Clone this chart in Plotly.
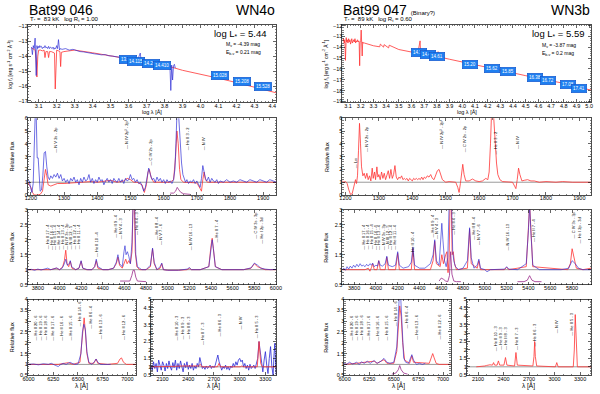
import plotly.graph_objects as go

W, H = 600, 394
RED = "#ff3434"
BLUE = "#2a2ad6"
FONT = "Liberation Sans, Arial, sans-serif"

# ---------------- Bat99 046 (left column) ----------------
l_sed_mod_x = [3.060, 3.070, 3.080, 3.085, 3.090, 3.095, 3.100, 3.110, 3.120, 3.130, 3.135, 3.140,
               3.150, 3.155, 3.160, 3.170, 3.180, 3.188, 3.192, 3.196, 3.200, 3.210, 3.218, 3.222,
               3.226, 3.240, 3.300, 3.400, 3.500, 3.600, 3.700, 3.800, 3.900, 4.000, 4.100, 4.200,
               4.300, 4.420]
l_sed_mod_y = [-13.45, -13.5, -13.6, -14.2, -15.4, -14.0, -13.6, -13.6, -13.65, -13.6, -14.1, -13.7,
               -13.7, -14.1, -13.7, -13.7, -13.75, -13.8, -16.2, -13.8, -13.6, -13.65, -13.7, -14.7,
               -13.75, -13.7, -13.6, -13.78, -13.98, -14.17, -14.37, -14.6, -14.95, -15.2, -15.48, -15.77,
               -16.07, -16.45]
l_sed_obs_x = [3.060, 3.065, 3.070, 3.075, 3.080, 3.083, 3.086, 3.090, 3.094, 3.098, 3.102, 3.106,
               3.110, 3.115, 3.120, 3.125, 3.130, 3.135, 3.140, 3.145, 3.150, 3.155, 3.160, 3.165,
               3.170, 3.175, 3.180, 3.185, 3.190, 3.195, 3.200, 3.205, 3.210, 3.213, 3.216, 3.220,
               3.230, 3.250, 3.270, 3.290, 3.310, 3.330, 3.350, 3.370, 3.390, 3.410, 3.430, 3.450,
               3.470, 3.490, 3.510, 3.530, 3.550, 3.570, 3.590, 3.610, 3.630, 3.650, 3.665, 3.670,
               3.690, 3.710, 3.730, 3.750, 3.770, 3.790, 3.810, 3.820, 3.830, 3.835, 3.840, 3.845,
               3.850, 3.855, 3.860]
l_sed_obs_y = [-13.4, -13.9, -13.3, -13.5, -12.8, -13.6, -15.3, -13.3, -13.5, -13.35, -13.45, -13.3,
               -13.4, -13.35, -13.5, -13.4, -13.45, -13.3, -13.45, -13.4, -13.5, -13.35, -13.5, -13.4,
               -13.45, -13.5, -13.4, -13.55, -13.45, -13.5, -13.3, -13.5, -12.9, -13.4, -13.6, -13.5,
               -13.55, -13.5, -13.6, -13.55, -13.65, -13.7, -13.72, -13.78, -13.8, -13.85, -13.88, -13.92,
               -13.9, -13.98, -14.0, -14.05, -14.1, -14.1, -14.15, -14.2, -14.22, -14.28, -13.8, -14.3,
               -14.32, -14.35, -14.4, -14.42, -14.48, -14.5, -14.75, -14.5, -14.6, -16.3, -14.6, -15.6,
               -14.65, -14.55, -14.8]
l_phot_x = [3.596, 3.642, 3.727, 3.787, 4.111, 4.229, 4.347]
l_phot_y = [-14.22, -14.36, -14.49, -14.64, -15.33, -15.67, -16.0]
l_phot_lab = ["13.982", "14.115", "14.262", "14.410", "15.028", "15.208", "15.528"]

l_uv_obs_x = [1190, 1195, 1199, 1203, 1207, 1210, 1213, 1216, 1219, 1222, 1225, 1228, 1232, 1236,
              1240, 1244, 1248, 1252, 1256, 1260, 1265, 1270, 1275, 1280, 1285, 1290, 1295, 1300,
              1305, 1310, 1315, 1320, 1325, 1330, 1335, 1340, 1345, 1350, 1355, 1360, 1365, 1370,
              1375, 1380, 1385, 1390, 1395, 1400, 1405, 1410, 1415, 1420, 1425, 1430, 1435, 1440,
              1445, 1450, 1455, 1460, 1465, 1470, 1475, 1480, 1485, 1490, 1495, 1500, 1505, 1510,
              1515, 1520, 1525, 1530, 1535, 1540, 1545, 1550, 1555, 1560, 1565, 1570, 1575, 1580,
              1585, 1590, 1595, 1600, 1605, 1610, 1615, 1620, 1625, 1630, 1634, 1637, 1640, 1645,
              1650, 1654, 1658, 1662, 1666, 1670, 1675, 1680, 1685, 1690, 1695, 1700, 1705, 1710,
              1714, 1718, 1722, 1726, 1730, 1735, 1740, 1745, 1750, 1755, 1760, 1765, 1770, 1780,
              1790, 1800, 1810, 1820, 1830, 1840, 1850, 1860, 1870, 1880, 1890, 1900, 1910, 1920,
              1930, 1940]
l_uv_obs_y = [1.2, 1.1, 0.6, 0.2, 0.9, 3.0, 6.3, 6.3, 2.9, 2.9, 1.0, 0.3, 0.4, 1.5,
              3.3, 3.4, 2.2, 1.4, 1.2, 1.5, 1.3, 1.6, 1.4, 1.7, 1.3, 1.6, 1.1, 1.3,
              1.0, 1.2, 0.9, 1.3, 1.1, 1.4, 1.0, 1.2, 0.8, 1.3, 1.0, 1.4, 1.1, 1.2,
              1.6, 1.0, 1.3, 0.9, 1.2, 1.0, 1.4, 1.1, 1.2, 0.8, 1.1, 1.3, 1.0, 1.2,
              0.9, 1.3, 1.1, 1.0, 1.3, 1.0, 1.2, 0.9, 1.3, 1.1, 1.2, 1.6, 1.2, 1.3,
              1.0, 1.2, 0.9, 1.0, 0.7, 0.3, 0.6, 1.5, 2.1, 1.6, 1.2, 1.3, 1.0, 1.4,
              1.1, 1.3, 1.0, 1.2, 0.9, 1.2, 1.0, 1.1, 0.9, 1.2, 2.0, 4.0, 6.3, 6.3,
              4.0, 2.5, 1.6, 1.2, 1.0, 1.2, 0.9, 1.1, 1.0, 1.2, 0.9, 1.1, 0.8, 0.6,
              1.3, 2.3, 1.8, 1.3, 1.1, 1.4, 1.0, 1.3, 1.1, 1.0, 1.2, 0.9, 1.1, 1.0,
              1.2, 1.0, 1.1, 1.0, 1.2, 1.1, 1.0, 1.2, 1.1, 1.0, 1.2, 1.1, 1.0, 1.2,
              1.1, 1.0]
l_uv_mod_x = [1190, 1200, 1205, 1210, 1220, 1228, 1235, 1240, 1244, 1248, 1252, 1260, 1270, 1280,
              1300, 1320, 1340, 1360, 1380, 1400, 1420, 1440, 1460, 1480, 1490, 1500, 1510, 1520,
              1535, 1542, 1548, 1553, 1557, 1562, 1570, 1600, 1620, 1630, 1636, 1640, 1644, 1648,
              1652, 1660, 1700, 1710, 1714, 1718, 1722, 1726, 1732, 1760, 1800, 1850, 1940]
l_uv_mod_y = [1.0, 0.6, 0.2, 0.0, 0.0, 0.05, 0.3, 1.2, 2.0, 1.5, 0.8, 0.7, 0.8, 0.9,
              0.9, 0.95, 1.0, 1.0, 1.05, 1.0, 1.1, 1.15, 1.0, 1.1, 1.3, 1.2, 1.0, 1.0,
              0.8, 0.2, 0.8, 1.8, 2.0, 1.4, 1.0, 1.0, 1.0, 1.2, 3.0, 5.0, 4.0, 2.0,
              1.2, 1.0, 0.95, 0.5, 0.3, 1.2, 1.8, 1.2, 1.0, 1.0, 1.0, 1.0, 1.0]
l_uv_sub_x = [1620, 1630, 1636, 1641, 1646, 1652, 1660, 1670, 1680]
l_uv_sub_y = [0.15, 0.15, 0.3, 0.6, 0.4, 0.2, 0.1, 0.08, 0.05]

l_opt_mod_x = [3705, 3800, 3850, 3890, 3920, 3970, 4000, 4030, 4045, 4058, 4070, 4085, 4100, 4115,
               4150, 4180, 4200, 4215, 4250, 4300, 4325, 4340, 4355, 4400, 4450, 4500, 4525, 4540,
               4555, 4580, 4600, 4612, 4625, 4640, 4655, 4670, 4680, 4692, 4700, 4715, 4740, 4800,
               4840, 4860, 4875, 4900, 4930, 4945, 4960, 5000, 5100, 5180, 5200, 5220, 5300, 5380,
               5400, 5411, 5422, 5440, 5500, 5600, 5700, 5770, 5801, 5830, 5860, 5900, 6005]
l_opt_mod_y = [1.0, 1.0, 1.0, 1.02, 1.0, 1.05, 1.0, 1.1, 1.3, 1.65, 1.2, 1.1, 1.28, 1.05,
               1.0, 1.05, 1.28, 1.05, 1.0, 1.0, 1.1, 1.3, 1.05, 1.0, 1.0, 1.05, 1.2, 1.42,
               1.15, 1.05, 1.25, 1.35, 1.2, 1.3, 1.2, 1.6, 3.2, 3.2, 1.6, 1.1, 1.0, 1.0,
               1.1, 1.7, 1.2, 1.0, 1.05, 1.2, 1.0, 0.98, 0.98, 1.0, 1.05, 1.0, 1.0, 1.1,
               1.8, 2.05, 1.7, 1.1, 1.0, 1.0, 1.0, 1.05, 1.2, 1.1, 1.05, 1.0, 1.0]
l_opt_obs_x = [3705, 3740, 3770, 3800, 3830, 3860, 3890, 3920, 3950, 3975, 4000, 4025, 4045, 4058,
               4072, 4090, 4100, 4112, 4150, 4180, 4200, 4215, 4260, 4300, 4325, 4340, 4355, 4400,
               4450, 4500, 4525, 4540, 4555, 4580, 4596, 4605, 4615, 4628, 4640, 4655, 4670, 4680,
               4695, 4705, 4720, 4760, 4800, 4840, 4860, 4875, 4900, 4930, 4945, 4960, 5000, 5050,
               5100, 5180, 5200, 5220, 5300, 5380, 5400, 5411, 5422, 5440, 5500, 5600, 5700, 5770,
               5801, 5830, 5860, 5900, 5950, 6005]
l_opt_obs_y = [1.0, 1.01, 0.98, 1.02, 0.99, 1.03, 1.05, 1.0, 1.02, 1.06, 1.0, 1.05, 1.2, 1.35,
               1.15, 1.2, 1.3, 1.1, 1.0, 1.05, 1.3, 1.05, 1.0, 1.0, 1.1, 1.35, 1.1, 1.0,
               1.0, 1.05, 1.25, 1.5, 1.2, 1.1, 1.6, 1.8, 1.5, 1.6, 1.45, 1.2, 1.9, 3.2,
               3.2, 1.5, 1.1, 1.0, 1.0, 1.15, 1.72, 1.25, 1.0, 1.1, 1.22, 1.0, 0.98, 0.97,
               0.98, 1.02, 1.07, 1.0, 1.0, 1.1, 1.8, 2.0, 1.7, 1.1, 1.0, 0.99, 1.0, 1.06,
               1.22, 1.15, 1.05, 1.02, 1.0, 1.01]
l_opt_sub_x = [4560, 4590, 4620, 4650, 4668, 4680, 4692, 4705, 4720, 4760, 4800]
l_opt_sub_y = [0.62, 0.62, 0.6, 0.62, 0.8, 0.98, 0.98, 0.75, 0.62, 0.6, 0.6]

l_ha_obs_x = [5995, 6050, 6100, 6150, 6200, 6230, 6260, 6300, 6320, 6350, 6380, 6420, 6440, 6470,
              6500, 6530, 6545, 6560, 6575, 6590, 6610, 6640, 6670, 6683, 6700, 6730, 6760, 6800, 6830]
l_ha_obs_y = [1.0, 1.02, 0.98, 1.03, 1.0, 1.05, 0.98, 0.9, 0.98, 1.05, 1.0, 1.1, 1.05, 1.0,
              1.02, 1.5, 2.5, 2.85, 2.6, 1.6, 1.1, 1.0, 1.15, 1.25, 1.1, 1.0, 1.0, 1.0, 1.0]
l_ha_mod_x = [5995, 6100, 6200, 6300, 6400, 6450, 6520, 6540, 6555, 6562, 6575, 6590, 6610, 6660,
              6683, 6700, 6800, 6900, 6925, 6940, 6960, 6990, 7095]
l_ha_mod_y = [1.0, 1.0, 1.02, 1.0, 1.08, 1.0, 1.1, 2.2, 3.1, 3.15, 2.5, 1.5, 1.05, 1.05,
              1.25, 1.05, 1.0, 1.05, 1.25, 1.3, 1.1, 1.0, 1.0]

l_ir_obs_x = [1966, 1980, 1995, 2010, 2025, 2040, 2055, 2070, 2085, 2100, 2115, 2130, 2145, 2160,
              2175, 2190, 2205, 2220, 2235, 2250, 2265, 2280, 2295, 2310, 2325, 2340, 2355, 2370,
              2385, 2400, 2415, 2430, 2445, 2460, 2475, 2490, 2505, 2520, 2535, 2550, 2565, 2580,
              2595, 2610, 2625, 2640, 2655, 2670, 2685, 2700, 2715, 2730, 2745, 2760, 2775, 2790,
              2805, 2820, 2835, 2850, 2865, 2880, 2895, 2910, 2925, 2940, 2955, 2970, 2985, 3000,
              3015, 3030, 3045, 3060, 3075, 3090, 3105, 3120, 3135, 3150, 3165, 3180, 3195, 3210,
              3225, 3240, 3255, 3270, 3285, 3300, 3315, 3330, 3345, 3360, 3375, 3390, 3400, 3410,
              3420, 3428]
l_ir_obs_y = [1.1, 0.8, 1.3, 0.9, 1.2, 0.7, 1.4, 1.0, 0.8, 1.3, 1.1, 0.75, 1.2, 0.9,
              1.35, 1.0, 0.8, 1.25, 0.95, 1.4, 0.8, 1.2, 0.9, 1.35, 1.0, 0.7, 1.2, 0.95,
              1.3, 0.85, 1.1, 0.9, 1.2, 0.8, 1.05, 0.9, 1.2, 1.0, 1.55, 1.1, 0.9, 1.0,
              0.85, 1.05, 0.9, 1.0, 1.1, 0.9, 1.05, 0.95, 1.1, 1.4, 1.7, 1.3, 1.0, 0.8,
              1.0, 0.9, 1.1, 0.85, 1.0, 0.8, 1.05, 0.95, 1.2, 1.0, 1.3, 1.1, 1.4, 1.5,
              1.3, 1.4, 1.0, 1.2, 0.9, 1.1, 0.8, 1.15, 0.9, 1.0, 1.1, 0.9, 1.2, 1.5,
              2.5, 1.8, 1.0, 0.7, 1.4, 1.9, 1.1, 0.6, 1.5, 2.2, 1.0, 0.5, 1.7, 2.4,
              1.0, 0.5]
l_ir_mod_x = [1966, 2200, 2250, 2330, 2410, 2520, 2541, 2560, 2740, 2758, 2776, 3005, 3025, 3045,
              3205, 3226, 3245, 3265, 3430]
l_ir_mod_y = [1.0, 1.0, 1.03, 1.05, 1.05, 1.05, 1.15, 1.0, 1.0, 1.2, 1.0, 1.0, 1.05, 1.0,
              1.0, 2.5, 1.2, 1.0, 1.0]

# ---------------- Bat99 047 (right column) ----------------
r_sed_mod_x = [3.060, 3.065, 3.070, 3.075, 3.080, 3.083, 3.086, 3.090, 3.095, 3.100, 3.105, 3.110,
               3.115, 3.120, 3.125, 3.130, 3.135, 3.140, 3.145, 3.150, 3.155, 3.160, 3.165, 3.170,
               3.175, 3.180, 3.185, 3.188, 3.192, 3.196, 3.200, 3.204, 3.208, 3.212, 3.216, 3.220,
               3.230, 3.300, 3.350, 3.355, 3.380, 3.385, 3.420, 3.425, 3.500, 3.600, 3.650, 3.668,
               3.672, 3.700, 3.800, 3.810, 3.815, 3.900, 4.000, 4.060, 4.100, 4.240, 4.360, 4.500,
               4.570, 4.680, 4.840, 4.920, 5.015]
r_sed_mod_y = [-13.4, -13.2, -13.6, -13.3, -15.2, -13.4, -13.1, -13.5, -13.3, -13.6, -13.2, -13.5,
               -13.3, -13.7, -13.4, -13.2, -13.6, -13.4, -13.3, -13.5, -13.2, -13.6, -13.4, -13.5,
               -13.3, -13.5, -13.4, -13.5, -15.7, -13.5, -13.4, -12.4, -13.5, -14.8, -13.5, -13.6,
               -13.6, -13.85, -13.95, -13.7, -13.98, -13.75, -14.05, -13.8, -14.2, -14.45, -14.55, -13.4,
               -14.6, -14.65, -14.85, -14.4, -14.88, -15.1, -15.35, -15.5, -15.62, -15.95, -16.2, -16.62,
               -16.8, -17.05, -17.42, -17.72, -17.95]
r_phot_x = [3.656, 3.728, 3.800, 4.058, 4.238, 4.362, 4.573, 4.675, 4.835, 4.920]
r_phot_y = [-14.46, -14.68, -14.84, -15.57, -15.95, -16.2, -16.83, -17.05, -17.4, -17.77]
r_phot_lab = ["14.32", "14.46", "14.61", "15.20", "15.62", "15.85", "16.38", "16.72", "17.08", "17.41"]

r_uv_mod_x = [1190, 1195, 1200, 1205, 1210, 1215, 1220, 1225, 1230, 1233, 1236, 1239, 1242, 1245,
              1248, 1252, 1256, 1260, 1264, 1268, 1272, 1276, 1280, 1283, 1287, 1290, 1294, 1297,
              1300, 1304, 1308, 1312, 1316, 1320, 1324, 1328, 1332, 1336, 1340, 1344, 1348, 1352,
              1356, 1360, 1364, 1368, 1372, 1376, 1380, 1384, 1388, 1392, 1396, 1400, 1404, 1408,
              1412, 1416, 1420, 1424, 1428, 1432, 1436, 1440, 1445, 1450, 1455, 1460, 1465, 1470,
              1475, 1480, 1485, 1490, 1495, 1500, 1510, 1520, 1530, 1536, 1540, 1544, 1548, 1551,
              1555, 1560, 1570, 1580, 1590, 1600, 1610, 1620, 1626, 1630, 1634, 1637, 1643, 1648,
              1652, 1656, 1662, 1670, 1690, 1700, 1706, 1710, 1714, 1718, 1722, 1728, 1735, 1745,
              1755, 1765, 1780, 1800, 1830, 1850, 1880, 1935]
r_uv_mod_y = [1.1, 1.0, 1.05, 0.9, 0.4, 0.05, 0.1, 0.6, 1.2, 0.9, 1.5, 3.5, 5.6, 4.0,
              2.2, 1.5, 1.7, 1.3, 1.7, 1.2, 1.5, 1.1, 2.1, 1.3, 1.8, 1.2, 2.2, 1.4,
              1.6, 1.2, 1.8, 1.3, 1.7, 1.2, 1.5, 1.9, 1.3, 2.0, 1.3, 1.6, 2.3, 1.4,
              1.2, 1.4, 1.3, 1.5, 1.2, 1.3, 1.2, 1.3, 1.1, 1.3, 1.2, 1.1, 1.3, 1.2,
              1.3, 1.2, 1.3, 1.2, 1.4, 1.2, 1.4, 1.3, 1.5, 1.4, 1.6, 1.3, 1.2, 1.5,
              1.9, 2.0, 1.6, 1.2, 1.1, 1.0, 1.05, 1.0, 1.0, 0.6, 0.2, 0.9, 2.0, 2.4,
              1.6, 1.1, 1.1, 1.25, 1.1, 1.05, 1.1, 1.3, 1.2, 1.8, 4.0, 6.3, 6.3, 4.0,
              2.5, 1.6, 1.2, 1.05, 1.0, 1.0, 0.7, 0.5, 1.2, 2.1, 1.6, 1.1, 1.15, 1.2,
              1.1, 1.1, 1.0, 1.05, 1.0, 1.05, 1.0, 1.0]

r_opt_obs_x = [3690, 3705, 3720, 3735, 3750, 3765, 3780, 3795, 3810, 3825, 3840, 3855, 3870, 3885,
               3900, 3915, 3930, 3945, 3960, 3970, 3985, 4000, 4015, 4026, 4040, 4060, 4085, 4100,
               4115, 4150, 4180, 4200, 4215, 4250, 4300, 4325, 4340, 4355, 4400, 4450, 4500, 4525,
               4540, 4555, 4580, 4596, 4605, 4615, 4630, 4645, 4660, 4672, 4680, 4695, 4705, 4715,
               4730, 4760, 4800, 4840, 4860, 4875, 4900, 4930, 4945, 4960, 5000, 5020, 5050, 5100,
               5180, 5200, 5220, 5300, 5380, 5400, 5411, 5422, 5440, 5500, 5600, 5700, 5770, 5801,
               5830, 5860, 5900, 5975]
r_opt_obs_y = [1.0, 1.05, 0.98, 1.1, 1.02, 1.12, 1.05, 1.15, 1.08, 1.18, 1.1, 1.2, 1.12, 1.15,
               1.1, 1.18, 1.12, 1.2, 1.15, 1.22, 1.1, 1.15, 1.12, 1.3, 1.15, 1.12, 1.2, 1.45,
               1.15, 1.1, 1.15, 1.6, 1.15, 1.05, 1.1, 1.25, 1.75, 1.15, 1.05, 1.05, 1.2, 1.5,
               2.0, 1.3, 1.15, 2.2, 2.55, 2.0, 1.3, 1.1, 1.4, 3.2, 3.2, 3.2, 1.6, 1.3,
               1.1, 1.0, 1.05, 1.3, 2.4, 1.4, 1.05, 1.15, 1.35, 1.05, 1.0, 0.93, 1.0, 1.0,
               1.02, 1.1, 1.02, 1.0, 1.2, 2.3, 3.2, 2.3, 1.15, 1.0, 1.0, 1.0, 1.05, 1.3,
               1.2, 1.05, 1.0, 1.0]
r_opt_mod_x = [3690, 3800, 3900, 3930, 3945, 3960, 3970, 3985, 4010, 4026, 4040, 4085, 4100, 4115,
               4180, 4200, 4215, 4325, 4340, 4355, 4500, 4525, 4540, 4555, 4590, 4605, 4620, 4640,
               4652, 4662, 4672, 4680, 4692, 4700, 4710, 4722, 4740, 4840, 4860, 4875, 4930, 4945,
               4960, 5180, 5200, 5220, 5380, 5400, 5411, 5422, 5440, 5760, 5785, 5801, 5815, 5840,
               5900, 5975]
r_opt_mod_y = [1.0, 1.0, 1.0, 1.05, 0.95, 1.08, 1.2, 1.0, 1.0, 1.3, 1.0, 1.0, 1.42, 1.0,
               1.0, 1.55, 1.0, 1.0, 1.7, 1.0, 1.0, 1.3, 1.95, 1.2, 1.1, 1.5, 1.2, 1.5,
               1.6, 0.9, 1.4, 3.2, 3.2, 1.5, 1.6, 1.2, 1.0, 1.05, 2.35, 1.2, 1.05, 1.3,
               1.0, 1.0, 1.08, 1.0, 1.1, 2.4, 3.2, 2.4, 1.1, 1.0, 1.2, 1.7, 1.45, 1.05,
               1.0, 1.05]
r_opt_sub1_x = [4580, 4600, 4620, 4640, 4660, 4675, 4686, 4698, 4715, 4740, 4780]
r_opt_sub1_y = [0.62, 0.72, 0.68, 0.62, 0.6, 0.8, 1.6, 0.85, 0.62, 0.6, 0.6]
r_opt_sub2_x = [5300, 5360, 5390, 5405, 5411, 5418, 5432, 5460, 5520]
r_opt_sub2_y = [0.6, 0.6, 0.65, 0.75, 0.8, 0.75, 0.65, 0.6, 0.6]

r_ha_obs_x = [5995, 6020, 6050, 6080, 6100, 6120, 6150, 6170, 6200, 6230, 6260, 6300, 6330, 6370,
              6400, 6430, 6460, 6500, 6530, 6545, 6555, 6570, 6585, 6600, 6620, 6650, 6670, 6683,
              6700, 6730, 6760, 6790, 6820]
r_ha_obs_y = [1.05, 1.0, 1.1, 1.02, 1.05, 1.1, 1.0, 1.12, 1.05, 1.15, 1.05, 1.18, 1.05, 1.15,
              1.28, 1.1, 1.05, 1.1, 1.8, 3.3, 4.1, 4.1, 2.5, 1.3, 1.1, 1.05, 1.3, 1.45,
              1.2, 1.0, 1.05, 1.0, 1.05]
r_ha_mod_x = [5995, 6070, 6120, 6170, 6230, 6300, 6330, 6400, 6430, 6500, 6530, 6545, 6560, 6575,
              6590, 6610, 6660, 6683, 6700, 6860, 6880, 6895, 6910, 6930, 6960, 7080]
r_ha_mod_y = [1.0, 1.05, 1.05, 1.08, 1.1, 1.15, 1.05, 1.22, 1.05, 1.05, 1.6, 3.0, 3.7, 3.2,
              2.0, 1.2, 1.05, 1.4, 1.1, 1.05, 1.3, 1.5, 1.3, 1.05, 1.0, 1.0]
r_ha_sub_x = [6480, 6520, 6545, 6560, 6575, 6600, 6640]
r_ha_sub_y = [0.55, 0.6, 0.75, 0.95, 0.75, 0.6, 0.55]

r_ir_mod_x = [2080, 2150, 2180, 2200, 2220, 2240, 2270, 2283, 2296, 2325, 2340, 2355, 2405, 2423,
              2440, 2530, 2546, 2562, 2745, 2758, 2766, 2774, 2790, 3010, 3026, 3042, 3220, 3232,
              3243, 3254, 3268, 3430]
r_ir_mod_y = [1.0, 1.02, 1.05, 1.08, 1.1, 1.12, 1.1, 1.25, 1.1, 1.1, 1.35, 1.1, 1.1, 1.55,
              1.1, 1.05, 1.85, 1.1, 1.05, 1.6, 2.5, 1.6, 1.05, 1.0, 1.25, 1.0, 1.0, 2.0,
              4.1, 2.0, 1.0, 1.0]

# line identifications: (x, y_center, label)
l_uv_ids = [(1275, 4.3, "N V 2s - 2p"), (1488, 4.8, "N IV 2p² - 2p³"), (1560, 3.35, "C IV 2s - 2p"),
            (1672, 4.4, "He II 3 - 2"), (1720, 4.0, "N IV")]
r_uv_ids = [(1229, 2.5, "Lα"), (1262, 4.4, "N V 2s - 2p"), (1487, 4.8, "N IV 2p² - 2p³"),
            (1556, 4.4, "C IV 2s - 2p"), (1650, 4.1, "He II 3 - 2"), (1715, 4.1, "N IV")]
opt_ids = [(3890, 2.1, "He II 17 - 4"), (3925, 2.1, "He II 16 - 4"), (3960, 2.1, "He II 15 - 4"),
           (3995, 2.1, "He II 14 - 4"), (4030, 2.1, "He II 13 - 4"), (4070, 2.1, "N IV 3s - 3p"),
           (4105, 2.1, "N III 12 - 5"), (4140, 2.1, "He II 12 - 4"), (4175, 2.1, "He II 11 - 4"),
           (4336, 1.85, "He II 10 - 4"), (4517, 2.45, "He II 9 - 4"), (4563, 2.4, "N V 4 - 3"),
           (4713, 2.55, "He II 4 - 3"), (4900, 2.4, "He II 8 - 4"), (4940, 2.2, "N V 7 - 6"),
           (5211, 2.1, "N IV 16 - 13"), (5453, 2.3, "He II 7 - 4"), (5815, 2.5, "C IV 3s - 3p"),
           (5870, 2.3, "He I 2p - 3d")]
ha_ids = [(6075, 2.7, "He II 20 - 6"), (6125, 2.7, "He II 19 - 6"), (6174, 2.7, "He II 18 - 6"),
          (6248, 2.7, "He II 17 - 6"), (6331, 2.7, "He II 16 - 6"), (6429, 2.7, "He II 15 - 6"),
          (6520, 3.35, "He II 14 - 6"), (6631, 3.2, "He II 6 - 4"), (6729, 2.75, "He II 13 - 6"),
          (6959, 2.75, "He II 12 - 6")]
l_ir_ids = [(2263, 3.3, "He II 10 - 3"), (2332, 3.3, "He II 9 - 3"), (2400, 3.3, "He II 8 - 3"),
            (2560, 3.0, "He II 7 - 3"), (2769, 3.5, "He II 6 - 3"), (3009, 3.6, "N IV"),
            (3189, 3.4, "He II 5 - 3")]
r_ir_ids = [(2301, 2.7, "He II 10 - 3"), (2355, 2.7, "He II 9 - 3"), (2416, 2.7, "He II 8 - 3"),
            (2546, 2.7, "He II 7 - 3"), (2766, 2.9, "He II 6 - 3"), (3026, 3.4, "N IV"),
            (3205, 3.5, "He II 5 - 3")]

fig = go.Figure()


def ax_names(n):
    s = "" if n == 1 else str(n)
    return "xaxis" + s, "yaxis" + s, "x" + s, "y" + s


def add_panel(n, box, xr, yr, xdt, ydt, xmin, ymin, xfmt=None):
    x0, x1, y0, y1 = box
    xa, ya, xs, ys = ax_names(n)
    common = dict(showgrid=False, zeroline=False, showline=True, mirror="allticks",
                  linecolor="black", linewidth=0.7, ticks="inside", ticklen=3,
                  tickwidth=0.6, tickcolor="black", ticklabelstandoff=-2,
                  tickfont=dict(size=5.5, color="black", family=FONT))
    xextra = dict(tickformat=xfmt) if xfmt else {}
    fig.update_layout({
        xa: dict(domain=[x0 / W, x1 / W], anchor=ys, range=xr, dtick=xdt, tick0=0,
                 minor=dict(dtick=xmin, ticks="inside", ticklen=1.5, tickwidth=0.5,
                            tickcolor="black"), **xextra, **common),
        ya: dict(domain=[1 - y1 / H, 1 - y0 / H], anchor=xs, range=yr, dtick=ydt, tick0=0,
                 minor=dict(dtick=ymin, ticks="inside", ticklen=1.5, tickwidth=0.5,
                            tickcolor="black"), **common),
    })


def line(n, x, y, color, width=0.8, opacity=1.0):
    _, _, xs, ys = ax_names(n)
    fig.add_trace(go.Scatter(x=x, y=y, mode="lines", xaxis=xs, yaxis=ys, opacity=opacity,
                             line=dict(color=color, width=width), showlegend=False,
                             hoverinfo="skip"))


def unity(n, xr):
    _, _, xs, ys = ax_names(n)
    fig.add_shape(type="line", xref=xs, yref=ys, x0=xr[0], x1=xr[1], y0=1, y1=1,
                  line=dict(color="#555555", width=0.6), layer="below")


def ids(n, items, size=4):
    _, _, xs, ys = ax_names(n)
    for x, y, t in items:
        fig.add_annotation(x=x, y=y, xref=xs, yref=ys, text="— " + t, textangle=-90,
                           showarrow=False, font=dict(size=size, color="black", family=FONT))


def phot(n, xs_, ys_, labs):
    _, _, xs, ys = ax_names(n)
    for x, y, t in zip(xs_, ys_, labs):
        fig.add_annotation(x=x, y=y, xref=xs, yref=ys, text=t, showarrow=False,
                           bgcolor="#1e7ff0", bordercolor="#1050c8", borderwidth=0.6,
                           borderpad=1.5, font=dict(size=4.5, color="white", family=FONT))


def text(x, y, t, size, xanchor="left", yanchor="middle", angle=0):
    fig.add_annotation(x=x / W, y=1 - y / H, xref="paper", yref="paper", text=t,
                       showarrow=False, xanchor=xanchor, yanchor=yanchor, textangle=angle,
                       font=dict(size=size, color="black", family=FONT))


# panel boxes in pixels: (x0, x1, y0_top, y1_bottom)
LX = (22, 276)
RX = (343, 597)
ranges = {
    1: ([3.038, 4.423], [-17.1, -11.9], 0.1, 1, 0.02, 0.2, ".1f"),
    2: ([1190, 1940], [0, 6], 100, 1, 20, 0.2, None),
    3: ([3705, 6005], [0.5, 3.0], 200, 0.5, 50, 0.1, None),
    4: ([5990, 7090], [0.5, 4.0], 250, 0.5, 50, 0.1, None),
    5: ([1966, 3429], [0.5, 5.0], 300, 0.5, 100, 0.1, None),
    6: ([3.054, 5.015], [-19.1, -11.9], 0.1, 1, 0.02, 0.2, ".1f"),
    7: ([1190, 1935], [0, 6], 100, 1, 20, 0.2, None),
    8: ([3690, 5975], [0.5, 3.0], 200, 0.5, 50, 0.1, None),
    9: ([5995, 7080], [0.5, 4.0], 250, 0.5, 50, 0.1, None),
    10: ([1966, 3429], [0.5, 5.0], 300, 0.5, 100, 0.1, None),
}
boxes = {
    1: (LX[0], LX[1], 22, 101), 2: (LX[0], LX[1], 117, 195), 3: (LX[0], LX[1], 210, 286),
    4: (22, 133, 301, 378), 5: (148, 276, 301, 378),
    6: (RX[0], RX[1], 22, 101), 7: (RX[0], RX[1], 117, 195), 8: (RX[0], RX[1], 210, 286),
    9: (345, 454, 301, 378), 10: (470, 597, 301, 378),
}
for n in boxes:
    xr, yr, xdt, ydt, xmin, ymin, xfmt = ranges[n]
    add_panel(n, boxes[n], xr, yr, xdt, ydt, xmin, ymin, xfmt)
    if n not in (1, 6):
        unity(n, xr)

# left column spectra
line(1, l_sed_mod_x, l_sed_mod_y, RED)
line(1, l_sed_obs_x, l_sed_obs_y, BLUE, opacity=0.85)
phot(1, l_phot_x, l_phot_y, l_phot_lab)
line(2, l_uv_mod_x, l_uv_mod_y, RED)
line(2, l_uv_obs_x, l_uv_obs_y, BLUE, opacity=0.85)
line(2, l_uv_sub_x, l_uv_sub_y, "#9a2a8a")
line(3, l_opt_mod_x, l_opt_mod_y, RED)
line(3, l_opt_obs_x, l_opt_obs_y, BLUE, opacity=0.8)
line(3, l_opt_sub_x, l_opt_sub_y, "#9a2a8a")
line(4, l_ha_mod_x, l_ha_mod_y, RED)
line(4, l_ha_obs_x, l_ha_obs_y, BLUE, opacity=0.8)
line(5, l_ir_obs_x, l_ir_obs_y, BLUE)
line(5, l_ir_mod_x, l_ir_mod_y, RED)

# right column spectra
line(6, r_sed_mod_x, r_sed_mod_y, RED)
phot(6, r_phot_x, r_phot_y, r_phot_lab)
line(7, r_uv_mod_x, r_uv_mod_y, RED)
line(8, r_opt_mod_x, r_opt_mod_y, RED)
line(8, r_opt_obs_x, r_opt_obs_y, BLUE, opacity=0.8)
line(8, r_opt_sub1_x, r_opt_sub1_y, "#9a2a8a")
line(8, r_opt_sub2_x, r_opt_sub2_y, "#9a2a8a")
line(9, r_ha_mod_x, r_ha_mod_y, RED)
line(9, r_ha_obs_x, r_ha_obs_y, BLUE, opacity=0.8)
line(9, r_ha_sub_x, r_ha_sub_y, "#9a2a8a")
line(10, r_ir_mod_x, r_ir_mod_y, RED)

ids(2, l_uv_ids)
ids(7, r_uv_ids)
ids(3, opt_ids)
ids(8, opt_ids)
ids(4, ha_ids)
ids(9, ha_ids)
ids(5, l_ir_ids)
ids(10, r_ir_ids)

# headers
text(21, 7.5, "Bat99 046", 14)
text(277, 7.5, "WN4o", 14, xanchor="right")
text(22, 17, "T<sub>*</sub> =  83 kK   log R<sub>t</sub> = 1.00", 6)
text(342, 7.5, "Bat99 047 <span style='font-size:6px'>(Binary?)</span>", 14)
text(598, 7.5, "WN3b", 14, xanchor="right")
text(343, 17, "T<sub>*</sub> =  89 kK   log R<sub>t</sub> = 0.60", 6)

text(268, 31, "log L<sub>*</sub> = 5.44", 9.5, xanchor="right")
text(222, 42, "M<sub>v</sub> = -4.39 mag", 5)
text(222, 50, "E<sub>b-v</sub> = 0.21 mag", 5)
text(593, 31, "log L<sub>*</sub> = 5.59", 9.5, xanchor="right")
text(545, 43, "M<sub>v</sub> = -3.87 mag", 5)
text(545, 51, "E<sub>b-v</sub> = 0.2 mag", 5)

# axis titles
ylab_sed = "log <i>f</i><sub>λ</sub> [erg s<sup>-1</sup> cm<sup>-2</sup> Å<sup>-1</sup>]"
text(4, 62, ylab_sed, 5, xanchor="center", angle=-90)
text(326, 62, ylab_sed, 5, xanchor="center", angle=-90)
for cx in (6, 327):
    for y0, y1 in ((117, 195), (210, 286), (301, 378)):
        text(cx, (y0 + y1) / 2, "Relative flux", 5.5, xanchor="center", angle=-90)
text(149, 110.5, "log λ [Å]", 5.5, xanchor="center")
text(470, 110.5, "log λ [Å]", 5.5, xanchor="center")
for cx in (77, 212, 400, 533):
    text(cx, 388.5, "λ [Å]", 6.5, xanchor="center")

fig.update_layout(width=W, height=H, margin=dict(l=0, r=0, t=0, b=0),
                  paper_bgcolor="white", plot_bgcolor="white",
                  font=dict(family=FONT, color="black"), showlegend=False)

fig.write_html("out.html", config={"displayModeBar": False, "staticPlot": True},
               post_script="document.body.style.margin='0';")
